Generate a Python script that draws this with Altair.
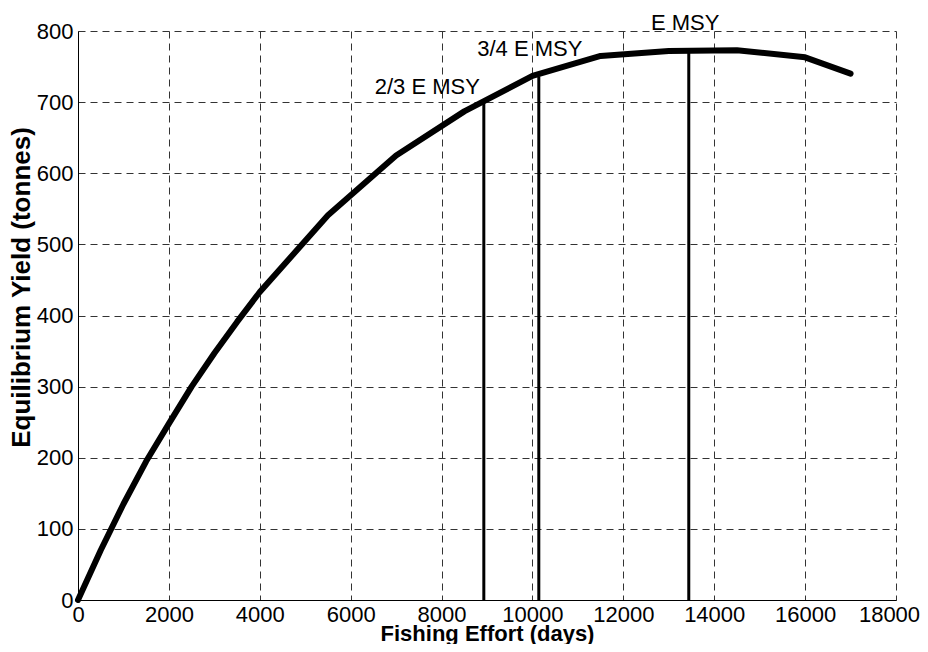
import altair as alt
import pandas as pd

# Equilibrium yield curve
effort = [0, 500, 1000, 1500, 2000, 2500, 3000, 3500, 4000, 5500, 7000,
          8500, 10000, 11500, 13000, 14500, 16000, 17000]
yield_t = [0, 70, 135, 195, 248, 300, 347, 391, 433, 541, 625,
           687, 737, 765, 772, 773, 763, 740]

# Reference effort levels (vertical lines)
marker_effort = [8930, 10140, 13440]
marker_top = [702, 736, 772]

# Annotation labels
label_text = ["2/3 E MSY", "3/4 E MSY", "E MSY"]
label_x = [7687, 9943, 13361]
label_y = [711, 765, 802]

x_ticks = list(range(0, 18001, 2000))
y_ticks = list(range(0, 801, 100))

FONT = "Liberation Sans"

curve_df = pd.DataFrame({"effort": effort, "yield": yield_t})
rule_df = pd.DataFrame({"effort": marker_effort, "yield": [0] * len(marker_effort), "top": marker_top})
label_df = pd.DataFrame({"effort": label_x, "yield": label_y, "label": label_text})

x_scale = alt.Scale(domain=[0, 18000], nice=False, zero=False)
y_scale = alt.Scale(domain=[0, 800], nice=False, zero=False)

x_axis = alt.Axis(
    values=x_ticks, format="d", title="Fishing Effort (days)",
    labelFont=FONT, labelFontSize=22, labelColor="black", labelPadding=4,
    labelFlush=False, labelOverlap=False,
    labelOffset={"condition": {"test": "datum.value == 18000", "value": -7}, "value": 0},
    grid=True, gridDash=[7, 5], gridColor="#333333", gridWidth=1,
    ticks=False, domainColor="black", domainWidth=1,
    titleFont=FONT, titleFontSize=22, titleFontWeight="bold", titleColor="black",
    titleY=40, titleBaseline="alphabetic",
)
y_axis = alt.Axis(
    values=y_ticks, format="d", title="Equilibrium Yield (tonnes)",
    labelFont=FONT, labelFontSize=22, labelColor="black", labelPadding=5,
    labelFlush=False, labelOverlap=False,
    grid=True, gridDash=[7, 5], gridColor="#333333", gridWidth=1,
    ticks=False, domainColor="black", domainWidth=1,
    titleFont=FONT, titleFontSize=26, titleFontWeight="bold", titleColor="black",
    titleAngle=270, titleX=-49, titleY=256, titleAlign="center", titleBaseline="alphabetic",
)

X = alt.X("effort:Q", scale=x_scale, axis=x_axis)
Y = alt.Y("yield:Q", scale=y_scale, axis=y_axis)

rules = alt.Chart(rule_df).mark_rule(color="black", strokeWidth=3).encode(
    x=X, y=Y, y2="top:Q"
)
curve = alt.Chart(curve_df).mark_line(
    color="black", strokeWidth=6, strokeCap="round", strokeJoin="round"
).encode(x=X, y=Y, order="effort:Q")
labels = alt.Chart(label_df).mark_text(
    font=FONT, fontSize=22, color="black", align="center", baseline="alphabetic"
).encode(x=X, y=Y, text="label:N")

chart = (
    alt.layer(rules, curve, labels)
    .properties(
        width=818, height=569, autosize="none",
        padding={"left": 70, "top": 23, "right": 24, "bottom": 44},
        background="white",
    )
    .configure_view(stroke=None)
)

chart.save("out.html", embed_options={"renderer": "svg", "actions": False})
